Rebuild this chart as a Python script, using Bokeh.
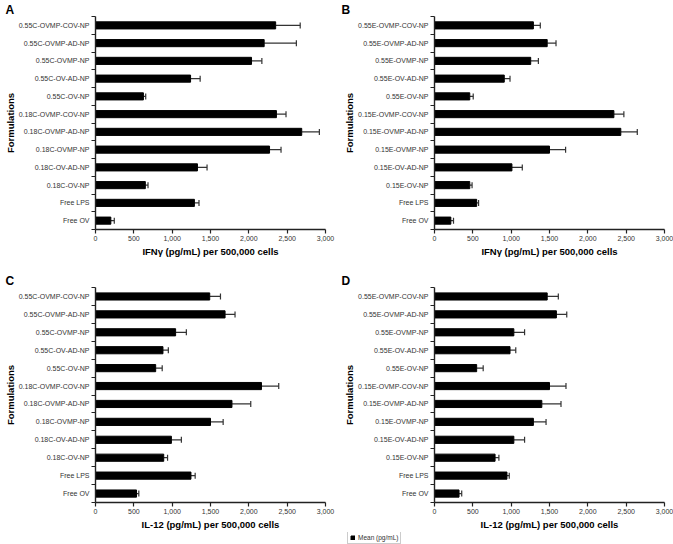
from bokeh.plotting import figure
from bokeh.models import (ColumnDataSource, Whisker, TeeHead, FixedTicker,
                          NumeralTickFormatter, Range1d, Legend, LegendItem)
from bokeh.layouts import column, row
from bokeh.embed import file_html
from bokeh.resources import INLINE

FONT = "Liberation Sans"

cats_C = ["0.55C-OVMP-COV-NP", "0.55C-OVMP-AD-NP", "0.55C-OVMP-NP", "0.55C-OV-AD-NP",
          "0.55C-OV-NP", "0.18C-OVMP-COV-NP", "0.18C-OVMP-AD-NP", "0.18C-OVMP-NP",
          "0.18C-OV-AD-NP", "0.18C-OV-NP", "Free LPS", "Free OV"]
cats_E = ["0.55E-OVMP-COV-NP", "0.55E-OVMP-AD-NP", "0.55E-OVMP-NP", "0.55E-OV-AD-NP",
          "0.55E-OV-NP", "0.15E-OVMP-COV-NP", "0.15E-OVMP-AD-NP", "0.15E-OVMP-NP",
          "0.15E-OV-AD-NP", "0.15E-OV-NP", "Free LPS", "Free OV"]

ifng_C_mean = [2350, 2200, 2035, 1240, 625, 2360, 2690, 2270, 1330, 650, 1290, 200]
ifng_C_err = [320, 420, 135, 125, 30, 125, 230, 150, 125, 35, 60, 45]
ifng_E_mean = [1290, 1470, 1255, 910, 460, 2340, 2430, 1500, 1010, 460, 550, 213]
ifng_E_err = [90, 115, 100, 75, 45, 130, 215, 210, 135, 30, 25, 35]
il12_C_mean = [1490, 1690, 1045, 880, 785, 2165, 1780, 1500, 990, 890, 1245, 535]
il12_C_err = [140, 130, 140, 70, 85, 225, 245, 165, 130, 50, 55, 30]
il12_E_mean = [1470, 1590, 1035, 985, 550, 1500, 1400, 1290, 1035, 790, 945, 320]
il12_E_err = [145, 135, 140, 75, 85, 215, 250, 165, 140, 50, 30, 35]

x_ticks = [0, 500, 1000, 1500, 2000, 2500, 3000]
x_max = 3000
y_title = "Formulations"
ifng_title = "IFN\u03b3 (pg/mL) per 500,000 cells"
il12_title = "IL-12 (pg/mL) per 500,000 cells"
legend_label = "Mean (pg/mL)"


def make_source(vals, errs):
    n = len(vals)
    return ColumnDataSource(dict(y=[n - 1 - i for i in range(n)], v=vals,
                                 hi=[v + e for v, e in zip(vals, errs)]))


def make_panel(letter, cats, vals, errs, xtitle, width, height, bl, br, bt, bb,
               letter_offset):
    n = len(cats)
    src = make_source(vals, errs)
    ys = src.data["y"]
    p = figure(width=width, height=height, output_backend="svg", toolbar_location=None,
               x_range=Range1d(0, x_max), y_range=Range1d(-0.5, n - 0.5),
               min_border_left=bl, min_border_right=br, min_border_top=bt,
               min_border_bottom=bb)
    p.outline_line_color = None
    p.xgrid.visible = False
    p.ygrid.visible = False
    w = Whisker(base="y", lower="v", upper="hi", dimension="width", source=src,
                line_color="#333333", line_width=1.2,
                upper_head=TeeHead(size=6, line_color="#333333", line_width=1.2),
                lower_head=None)
    p.add_layout(w)
    p.hbar(y="y", left=0, right="v", height=0.4, fill_color="black",
           line_color="black", source=src)

    xa = p.xaxis[0]
    xa.ticker = FixedTicker(ticks=x_ticks)
    xa.formatter = NumeralTickFormatter(format="0,0")
    xa.axis_label = xtitle
    xa.axis_label_text_font = FONT
    xa.axis_label_text_font_style = "bold"
    xa.axis_label_text_font_size = "9.5px"
    xa.axis_label_text_color = "black"
    xa.axis_label_standoff = 2
    xa.major_label_text_font = FONT
    xa.major_label_text_font_size = "7px"
    xa.major_label_text_color = "#333333"
    xa.major_label_standoff = 2
    xa.major_tick_out = 4
    xa.major_tick_in = 0
    xa.minor_tick_out = 0
    xa.minor_tick_in = 0
    xa.axis_line_color = "#222222"
    xa.axis_line_width = 1.4
    xa.major_tick_line_color = "#222222"
    xa.major_tick_line_width = 1.2

    ya = p.yaxis[0]
    ya.ticker = FixedTicker(ticks=ys, minor_ticks=[k - 0.5 for k in range(n + 1)])
    ya.major_label_overrides = {yy: c for yy, c in zip(ys, cats)}
    ya.axis_label = y_title
    ya.axis_label_text_font = FONT
    ya.axis_label_text_font_style = "bold"
    ya.axis_label_text_font_size = "9.5px"
    ya.axis_label_text_color = "black"
    ya.axis_label_standoff = 0
    ya.major_label_text_font = FONT
    ya.major_label_text_font_size = "7px"
    ya.major_label_text_color = "#333333"
    ya.major_label_standoff = 2
    ya.major_tick_out = 4
    ya.major_tick_in = 0
    ya.major_tick_line_color = None
    ya.minor_tick_out = 4
    ya.minor_tick_in = 0
    ya.minor_tick_line_color = "#222222"
    ya.minor_tick_line_width = 1.2
    ya.axis_line_color = "#222222"
    ya.axis_line_width = 1.4

    p.title.text = letter
    p.title.align = "left"
    p.title.offset = letter_offset
    p.title.standoff = 0
    p.title.text_font = FONT
    p.title.text_font_style = "bold"
    p.title.text_font_size = "12px"
    p.title.text_color = "black"
    p.title.text_line_height = 0.75
    return p


pA = make_panel("A", cats_C, ifng_C_mean, ifng_C_err, ifng_title,
                336, 270, 95, 11, 13, 41, -90)
pB = make_panel("B", cats_E, ifng_E_mean, ifng_E_err, ifng_title,
                337, 270, 98, 9, 13, 41, -93)
pC = make_panel("C", cats_C, il12_C_mean, il12_C_err, il12_title,
                336, 262, 95, 11, 17, 29, -90)
pD = make_panel("D", cats_E, il12_E_mean, il12_E_err, il12_title,
                337, 262, 98, 9, 17, 29, -93)

# legend strip under the lower panels (series = bar means)
pL = figure(width=673, height=12, output_backend="svg", toolbar_location=None,
            x_axis_type=None, y_axis_type=None, min_border_left=0, min_border_right=0,
            min_border_top=0, min_border_bottom=0)
pL.outline_line_color = None
pL.xgrid.visible = False
pL.ygrid.visible = False
rL = pL.hbar(y="y", left=0, right="v", height=0.4, fill_color="black",
             line_color="black", source=make_source(il12_E_mean, il12_E_err))
rL.visible = False
legend = Legend(items=[LegendItem(label=legend_label, renderers=[rL])],
                location=(347, 0), orientation="horizontal",
                label_text_font=FONT, label_text_font_size="6.5px",
                label_text_color="#333333", glyph_width=5, glyph_height=5,
                label_standoff=3, padding=2, margin=0, spacing=0,
                label_height=6, border_line_color="#999999", border_line_width=1,
                background_fill_color="white", background_fill_alpha=1,
                inactive_fill_alpha=0)
pL.add_layout(legend)

layout = column(row(pA, pB), row(pC, pD), pL)

open("out.html", "w").write(file_html(layout, INLINE))
